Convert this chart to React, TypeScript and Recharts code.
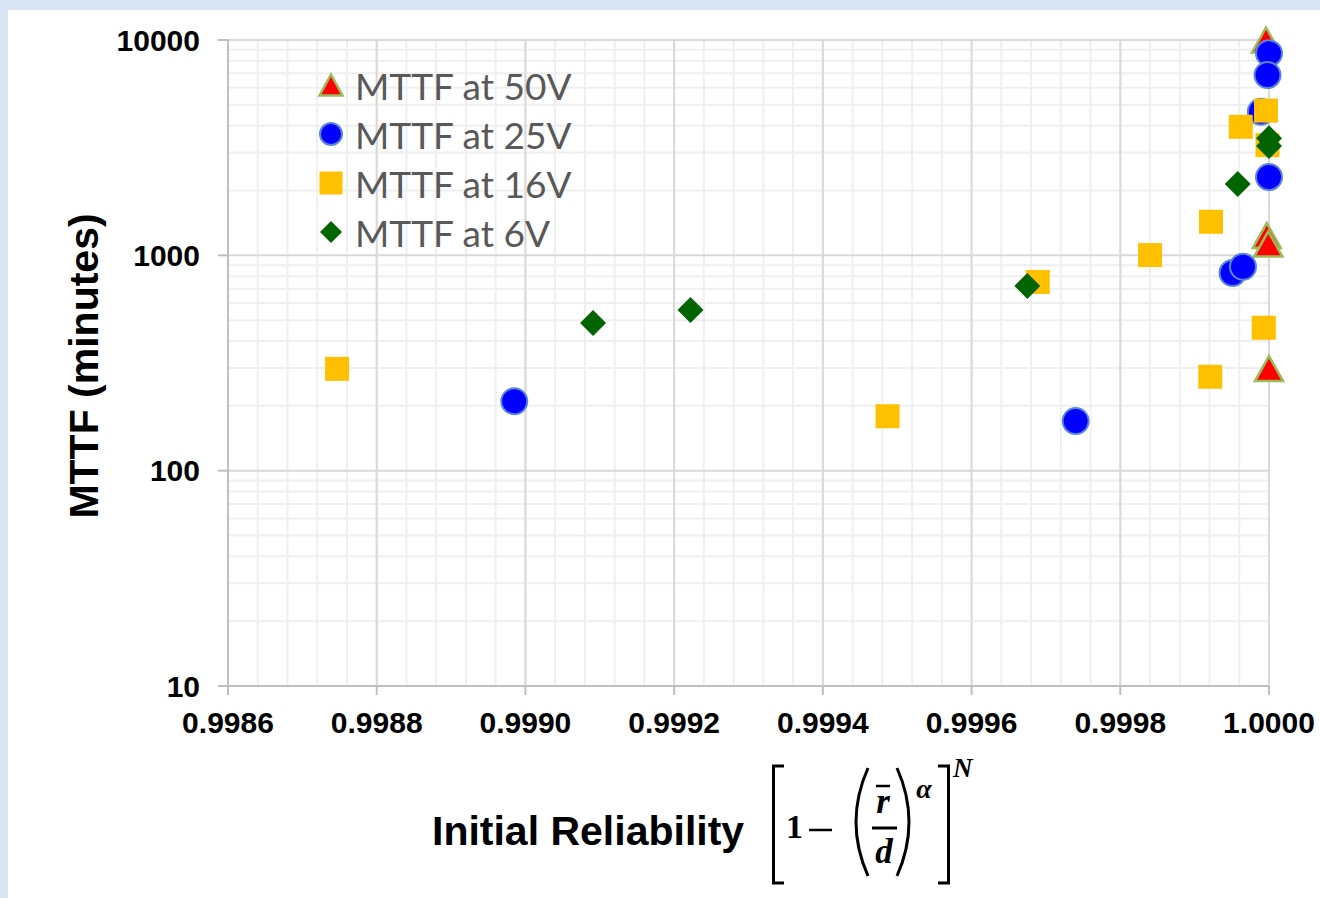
import React from 'react';
import { ScatterChart, Scatter, XAxis, YAxis, CartesianGrid } from 'recharts';

// Initial reliability (x) vs MTTF in minutes (y)
const mttf50V = [
  { x: 0.999996, y: 10000 },
  { x: 0.999997, y: 1236 },
  { x: 0.999999, y: 1130 },
  { x: 1.0, y: 298 },
];
const mttf25V = [
  { x: 0.998985, y: 210 },
  { x: 0.99974, y: 170 },
  { x: 0.999951, y: 828 },
  { x: 0.999965, y: 885 },
  { x: 0.999989, y: 4640 },
  { x: 1.0, y: 8670 },
  { x: 0.999998, y: 6870 },
  { x: 1.0, y: 2310 },
];
const mttf16V = [
  { x: 0.9987467, y: 297 },
  { x: 0.999487, y: 179 },
  { x: 0.999689, y: 752 },
  { x: 0.99984, y: 1003 },
  { x: 0.999922, y: 1432 },
  { x: 0.999921, y: 273 },
  { x: 0.999993, y: 461 },
  { x: 0.999962, y: 3953 },
  { x: 0.999996, y: 4700 },
  { x: 0.999998, y: 3250 },
];
const mttf6V = [
  { x: 0.999091, y: 485 },
  { x: 0.999222, y: 557 },
  { x: 0.999675, y: 721 },
  { x: 0.999958, y: 2143 },
  { x: 1.0, y: 3496 },
  { x: 1.0, y: 3219 },
];

const xTicks = [0.9986, 0.9988, 0.999, 0.9992, 0.9994, 0.9996, 0.9998, 1.0];
const yTicks = [10, 100, 1000, 10000];

// minor grid: 5 divisions per x step, 2..9 per decade on y
const xMinor: number[] = [];
for (let i = 0; i <= 35; i++) xMinor.push(0.9986 + i * 0.00004);
const yMinor: number[] = [];
[10, 100, 1000].forEach((d) => {
  for (let k = 2; k <= 9; k++) yMinor.push(d * k);
});

const legendItems = [
  { name: 'MTTF at 50V', kind: 'triangle' },
  { name: 'MTTF at 25V', kind: 'circle' },
  { name: 'MTTF at 16V', kind: 'square' },
  { name: 'MTTF at 6V', kind: 'diamond' },
];

const Triangle = ({ cx, cy, w = 28, h = 25 }: any) => (
  <polygon
    points={`${cx},${cy - h / 2} ${cx + w / 2},${cy + h / 2} ${cx - w / 2},${cy + h / 2}`}
    fill="#ff0000"
    stroke="#9bbb59"
    strokeWidth={2.5}
  />
);
const Dot = ({ cx, cy, r = 13 }: any) => (
  <circle cx={cx} cy={cy} r={r} fill="#0000ff" stroke="#5b86d6" strokeWidth={2} />
);
const Square = ({ cx, cy, s = 24 }: any) => (
  <rect x={cx - s / 2} y={cy - s / 2} width={s} height={s} fill="#ffc000" />
);
const Diamond = ({ cx, cy, s = 13 }: any) => (
  <polygon points={`${cx},${cy - s} ${cx + s},${cy} ${cx},${cy + s} ${cx - s},${cy}`} fill="#006400" />
);

const LegendIcon = ({ kind }: { kind: string }) => (
  <svg width={30} height={30} style={{ flex: 'none' }}>
    {kind === 'triangle' && <Triangle cx={15} cy={15} w={23} h={21} />}
    {kind === 'circle' && <Dot cx={15} cy={15} r={11} />}
    {kind === 'square' && <Square cx={15} cy={15} s={23} />}
    {kind === 'diamond' && <Diamond cx={15} cy={15} s={11} />}
  </svg>
);

const YTitle = () => (
  <text
    x={76}
    y={356}
    transform="rotate(-90 76 356)"
    textAnchor="middle"
    dominantBaseline="central"
    fontFamily="Liberation Sans"
    fontWeight="bold"
    fontSize={41}
    fill="#000"
  >
    MTTF (minutes)
  </text>
);

const math = { fontFamily: 'Liberation Serif', fontWeight: 'bold', fill: '#000' } as const;

const XTitle = () => (
  <g>
    <text x={424} y={835} fontFamily="Liberation Sans" fontWeight="bold" fontSize={41} fill="#000">
      Initial Reliability
    </text>
    <path d="M776,756 H765.5 V873 H776" fill="none" stroke="#000" strokeWidth={3} />
    <text x={778} y={828} fontSize={34} {...math}>1</text>
    <line x1={801} x2={824} y1={820} y2={820} stroke="#000" strokeWidth={2.5} />
    <path d="M860,758 Q836,812 860,866" fill="none" stroke="#000" strokeWidth={3} />
    <line x1={868} x2={882} y1={776} y2={776} stroke="#000" strokeWidth={2.5} />
    <text x={875} y={803} fontSize={35} fontStyle="italic" textAnchor="middle" {...math}>r</text>
    <line x1={864} x2={889} y1={818} y2={818} stroke="#000" strokeWidth={3} />
    <text x={876} y={853} fontSize={35} fontStyle="italic" textAnchor="middle" {...math}>d</text>
    <path d="M889,758 Q913,812 889,866" fill="none" stroke="#000" strokeWidth={3} />
    <text x={916} y={788} fontSize={28} fontStyle="italic" textAnchor="middle" {...math}>α</text>
    <path d="M930,756 H940.5 V873 H930" fill="none" stroke="#000" strokeWidth={3} />
    <text x={945} y={767} fontSize={27} fontStyle="italic" {...math}>N</text>
  </g>
);

const tickStyle = { fill: '#000', fontSize: 30, fontWeight: 'bold', fontFamily: 'Liberation Sans' };

export default function App() {
  return (
    <div style={{ position: 'fixed', left: 0, top: 0, width: 1320, height: 898, background: '#d8e6f4', overflow: 'hidden' }}>
      <div style={{ position: 'absolute', left: 8, top: 10, width: 1312, height: 888, background: '#fff' }}>
        <ScatterChart width={1312} height={888} margin={{ top: 30, right: 51, left: 140, bottom: 182 }}>
          <CartesianGrid verticalValues={xMinor} horizontalValues={yMinor} stroke="#efefef" strokeWidth={2} />
          <CartesianGrid stroke="#d9d9d9" strokeWidth={2} />
          <XAxis
            type="number"
            dataKey="x"
            domain={[0.9986, 1.0]}
            ticks={xTicks}
            tickFormatter={(v: number) => v.toFixed(4)}
            tick={tickStyle}
            tickSize={9}
            tickMargin={17}
            axisLine={{ stroke: '#bfbfbf', strokeWidth: 2 }}
            tickLine={{ stroke: '#bfbfbf', strokeWidth: 2 }}
            height={30}
            interval={0}
            label={XTitle}
          />
          <YAxis
            type="number"
            dataKey="y"
            scale="log"
            domain={[10, 10000]}
            ticks={yTicks}
            tick={tickStyle}
            tickSize={10}
            tickMargin={18}
            axisLine={{ stroke: '#bfbfbf', strokeWidth: 2 }}
            tickLine={{ stroke: '#bfbfbf', strokeWidth: 2 }}
            width={80}
            interval={0}
            label={YTitle}
          />
          <Scatter name="MTTF at 50V" data={mttf50V} shape={(p: any) => <Triangle cx={p.cx} cy={p.cy} />} isAnimationActive={false} />
          <Scatter name="MTTF at 25V" data={mttf25V} shape={(p: any) => <Dot cx={p.cx} cy={p.cy} />} isAnimationActive={false} />
          <Scatter name="MTTF at 16V" data={mttf16V} shape={(p: any) => <Square cx={p.cx} cy={p.cy} />} isAnimationActive={false} />
          <Scatter name="MTTF at 6V" data={mttf6V} shape={(p: any) => <Diamond cx={p.cx} cy={p.cy} />} isAnimationActive={false} />
        </ScatterChart>
        <div style={{ position: 'absolute', left: 308, top: 50.5 }}>
          {legendItems.map((it) => (
            <div key={it.name} style={{ display: 'flex', alignItems: 'center', height: 49 }}>
              <LegendIcon kind={it.kind} />
              <span style={{ fontFamily: 'Lato', fontSize: 37, color: '#595959', marginLeft: 9, lineHeight: '49px' }}>
                {it.name}
              </span>
            </div>
          ))}
        </div>
      </div>
    </div>
  );
}
